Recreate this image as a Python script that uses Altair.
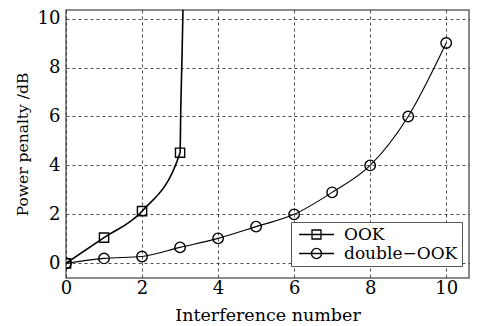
import altair as alt
import pandas as pd

# Measured power penalty versus number of interferers
ook_x = [0, 1, 2, 3]
ook_y = [0.0, 1.05, 2.13, 4.52]
# OOK penalty diverges just past three interferers
ook_tail_x = [3.02, 3.05, 3.08]
ook_tail_y = [6.4, 8.3, 10.6]

dook_x = [0, 1, 2, 3, 4, 5, 6, 7, 8, 9, 10]
dook_y = [0.0, 0.2, 0.28, 0.65, 1.02, 1.5, 2.0, 2.9, 4.0, 6.0, 9.0]

series = ["OOK", "double\u2212OOK"]

points = pd.DataFrame(
    {"x": ook_x + dook_x,
     "y": ook_y + dook_y,
     "series": [series[0]] * len(ook_x) + [series[1]] * len(dook_x)}
)
ook_line = pd.DataFrame({"x": ook_x + ook_tail_x, "y": ook_y + ook_tail_y})
dook_line = pd.DataFrame({"x": dook_x, "y": dook_y})

FONT = "DejaVu Serif"

xs = alt.Scale(domain=[0, 10.6], nice=False, zero=False)
ys = alt.Scale(domain=[-0.6, 10.35], nice=False, zero=False)

x_enc = alt.X("x:Q", scale=xs, axis=alt.Axis(
    values=[0, 2, 4, 6, 8, 10], title="Interference number",
    tickSize=0, labelPadding=1, titlePadding=9, domain=False, labelFlush=False,
    titleFontSize=17.5,
    gridDash=[3, 3], gridColor="#222", gridWidth=0.8))
y_enc = alt.Y("y:Q", scale=ys, axis=alt.Axis(
    values=[0, 2, 4, 6, 8, 10], title="Power penalty /dB",
    tickSize=0, labelPadding=6, titlePadding=7, domain=False, labelFlush=False,
    titleFontSize=15.5,
    gridDash=[3, 3], gridColor="#222", gridWidth=0.8))

line_ook = alt.Chart(ook_line).mark_line(
    color="black", strokeWidth=1.6, interpolate="monotone", clip=True
).encode(x=x_enc, y=y_enc)

line_dook = alt.Chart(dook_line).mark_line(
    color="black", strokeWidth=1.1, interpolate="monotone", clip=True
).encode(x="x:Q", y="y:Q")

marks = alt.Chart(points).mark_point(
    filled=False, strokeWidth=1.4, clip=True, opacity=1, color="black"
).encode(
    x="x:Q", y="y:Q",
    shape=alt.Shape("series:N", scale=alt.Scale(domain=series, range=["square", "circle"]),
                    legend=None),
    size=alt.Size("series:N", scale=alt.Scale(domain=series, range=[85, 110]), legend=None),
)

# Legend keys: a short line with the series marker on it (7 px per path unit)
OOK_SYM = "M-2.5,0H2.5M-0.64,-0.64H0.64V0.64H-0.64Z"
DOOK_SYM = ("M-2.5,0H2.5M0.72,0A0.72,0.72,0,1,1,-0.72,0"
            "A0.72,0.72,0,1,1,0.72,0Z")

legend_layer = alt.Chart(points).transform_filter("datum.x < 0").mark_point(
    filled=False, strokeWidth=1.3, color="black", size=196, opacity=1
).encode(
    x="x:Q", y="y:Q",
    shape=alt.Shape("series:N", scale=alt.Scale(domain=series, range=[OOK_SYM, DOOK_SYM]),
                    legend=alt.Legend(
                        orient="none", legendX=225, legendY=212, title=None,
                        direction="vertical",
                        fillColor="white", strokeColor="#555", padding=4,
                        symbolSize=196, symbolStrokeColor="black",
                        symbolStrokeWidth=1.3, symbolFillColor="transparent",
                        symbolOffset=13, labelOffset=19,
                        labelFont=FONT, labelFontSize=17, labelColor="black",
                        rowPadding=1, labelLimit=300,
                    )),
)

chart = alt.layer(line_ook, line_dook, marks, legend_layer).resolve_scale(
    shape="independent", size="independent"
).resolve_legend(shape="independent").properties(
    width=403, height=268,
    padding={"left": 66, "top": 10, "right": 11, "bottom": 48},
    autosize="none", background="white",
).configure_view(
    stroke="#666", strokeWidth=1.5
).configure_axis(
    labelFont=FONT, labelFontSize=18, labelColor="black",
    titleFont=FONT, titleColor="black", titleFontWeight="normal",
)

chart.save("out.html", embed_options={"renderer": "svg", "actions": False})
